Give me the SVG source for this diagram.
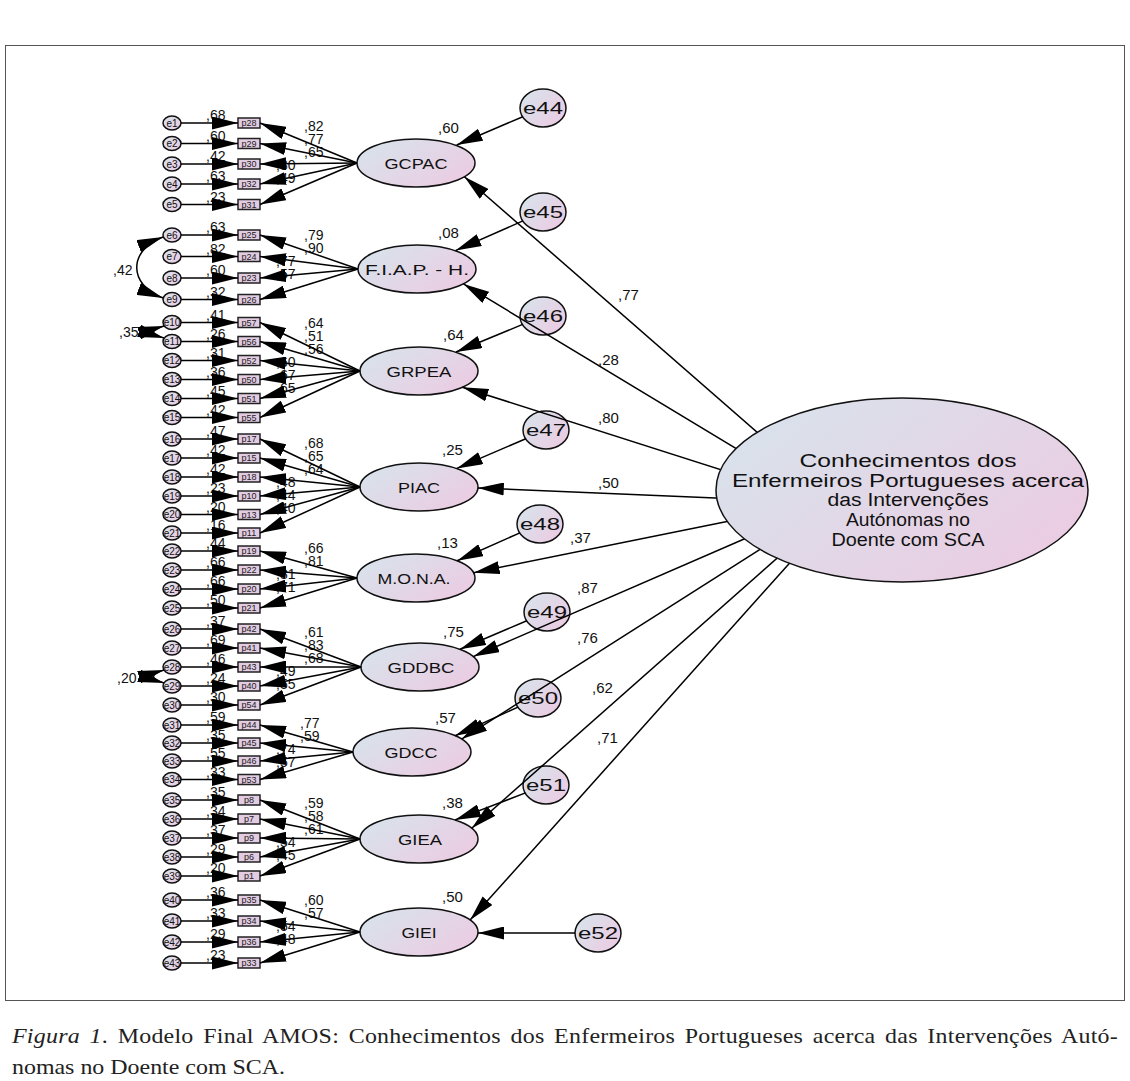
<svg xmlns="http://www.w3.org/2000/svg" width="1130" height="1081" viewBox="0 0 1130 1081">
<defs>
<linearGradient id="g" x1="0" y1="0.2" x2="1" y2="0.8"><stop offset="0" stop-color="#d8e3ec"/><stop offset="1" stop-color="#eccbe2"/></linearGradient>
<marker id="ah" viewBox="0 0 26 13" markerWidth="26" markerHeight="13" refX="26" refY="6.5" orient="auto" markerUnits="userSpaceOnUse"><path d="M0,0 L26,6.5 L0,13 z" fill="#000"/></marker>
<marker id="ahs" viewBox="0 0 26 13" markerWidth="26" markerHeight="13" refX="26" refY="6.5" orient="auto-start-reverse" markerUnits="userSpaceOnUse"><path d="M0,0 L26,6.5 L0,13 z" fill="#000"/></marker>
<style>
.ec{fill:url(#g);stroke:#111;stroke-width:1.5}
.bx{fill:#e3cce2;stroke:#222;stroke-width:1.5}
.lat{fill:url(#g);stroke:#111;stroke-width:1.5}
text{font-family:"Liberation Sans",Arial,sans-serif;fill:#111}
.se{font-size:10px;text-anchor:middle}
.bt{font-size:9px;text-anchor:middle;fill:#222}
.v{font-size:14px}
.v2{font-size:15px}
.ln{text-anchor:middle;font-size:15px}
.ee{text-anchor:middle;font-size:17px}
#connectors line,#connectors path{stroke:#000;stroke-width:1.5;fill:none;marker-end:url(#ah)}
#connectors path.cv{marker-start:url(#ahs)}
.cap{font-family:"Liberation Serif","Times New Roman",serif;font-size:21px;fill:#222}
</style>
</defs>
<rect x="5.5" y="45.5" width="1119" height="955" fill="none" stroke="#555" stroke-width="1"/>
<g id="labels" class="v">
<text x="206" y="120">,68</text><text x="206" y="140.5">,60</text><text x="206" y="161">,42</text><text x="206" y="181">,63</text><text x="206" y="201.5">,23</text>
<text x="304" y="131">,82</text><text x="304" y="144">,77</text><text x="304" y="157">,65</text><text x="276" y="170">,80</text><text x="276" y="183">,49</text>
<text x="206" y="232">,63</text><text x="206" y="253.5">,82</text><text x="206" y="275">,60</text><text x="206" y="296.5">,32</text>
<text x="304" y="240">,79</text><text x="304" y="253">,90</text><text x="276" y="266">,77</text><text x="276" y="279">,57</text>
<text x="206" y="319.5">,41</text><text x="206" y="338.5">,26</text><text x="206" y="357.5">,31</text><text x="206" y="376.5">,36</text><text x="206" y="395.5">,45</text><text x="206" y="414.5">,42</text>
<text x="304" y="328">,64</text><text x="304" y="341">,51</text><text x="304" y="354">,56</text><text x="276" y="367">,60</text><text x="276" y="380">,67</text><text x="276" y="393">,65</text>
<text x="206" y="436">,47</text><text x="206" y="455">,42</text><text x="206" y="474">,42</text><text x="206" y="493">,23</text><text x="206" y="511.5">,20</text><text x="206" y="530">,16</text>
<text x="304" y="448">,68</text><text x="304" y="461">,65</text><text x="304" y="474">,64</text><text x="276" y="487">,48</text><text x="276" y="500">,44</text><text x="276" y="513">,40</text>
<text x="206" y="548">,44</text><text x="206" y="567">,66</text><text x="206" y="586">,66</text><text x="206" y="605">,50</text>
<text x="304" y="553">,66</text><text x="304" y="566">,81</text><text x="276" y="579">,81</text><text x="276" y="592">,71</text>
<text x="206" y="626">,37</text><text x="206" y="645">,69</text><text x="206" y="664">,46</text><text x="206" y="683">,24</text><text x="206" y="702">,30</text>
<text x="304" y="637">,61</text><text x="304" y="650">,83</text><text x="304" y="663">,68</text><text x="276" y="676">,49</text><text x="276" y="689">,55</text>
<text x="206" y="722">,59</text><text x="206" y="740">,35</text><text x="206" y="758">,55</text><text x="206" y="776.5">,33</text>
<text x="300" y="728">,77</text><text x="300" y="741">,59</text><text x="276" y="754">,74</text><text x="276" y="767">,57</text>
<text x="206" y="797">,35</text><text x="206" y="816">,34</text><text x="206" y="835">,37</text><text x="206" y="854">,29</text><text x="206" y="873">,20</text>
<text x="304" y="808">,59</text><text x="304" y="821">,58</text><text x="304" y="834">,61</text><text x="276" y="847">,54</text><text x="276" y="860">,45</text>
<text x="206" y="897">,36</text><text x="206" y="918">,33</text><text x="206" y="939">,29</text><text x="206" y="960">,23</text>
<text x="304" y="905">,60</text><text x="304" y="918">,57</text><text x="276" y="931">,54</text><text x="276" y="944">,48</text>
<text x="113" y="275">,42</text><text x="119" y="337">,35</text><text x="117" y="683">,20</text>
<text class="v2" x="438" y="133">,60</text><text class="v2" x="438" y="238">,08</text><text class="v2" x="443" y="340">,64</text><text class="v2" x="442" y="455">,25</text><text class="v2" x="437" y="548">,13</text><text class="v2" x="443" y="637">,75</text><text class="v2" x="435" y="723">,57</text><text class="v2" x="442" y="808">,38</text><text class="v2" x="442" y="902">,50</text>
<text class="v2" x="618" y="300">,77</text><text class="v2" x="598" y="365">,28</text><text class="v2" x="598" y="423">,80</text><text class="v2" x="598" y="488">,50</text><text class="v2" x="570" y="543">,37</text><text class="v2" x="577" y="593">,87</text><text class="v2" x="577" y="643">,76</text><text class="v2" x="592" y="693">,62</text><text class="v2" x="597" y="743">,71</text>
</g>
<g id="errors-left">
<g id="e1"><ellipse class="ec" cx="172" cy="123" rx="9" ry="7"/><text class="se" x="172" y="126.5">e1</text></g>
<g id="e2"><ellipse class="ec" cx="172" cy="143.5" rx="9" ry="7"/><text class="se" x="172" y="147">e2</text></g>
<g id="e3"><ellipse class="ec" cx="172" cy="164" rx="9" ry="7"/><text class="se" x="172" y="167.5">e3</text></g>
<g id="e4"><ellipse class="ec" cx="172" cy="184" rx="9" ry="7"/><text class="se" x="172" y="187.5">e4</text></g>
<g id="e5"><ellipse class="ec" cx="172" cy="204.5" rx="9" ry="7"/><text class="se" x="172" y="208">e5</text></g>
<g id="e6"><ellipse class="ec" cx="172" cy="235" rx="9" ry="7"/><text class="se" x="172" y="238.5">e6</text></g>
<g id="e7"><ellipse class="ec" cx="172" cy="256.5" rx="9" ry="7"/><text class="se" x="172" y="260">e7</text></g>
<g id="e8"><ellipse class="ec" cx="172" cy="278" rx="9" ry="7"/><text class="se" x="172" y="281.5">e8</text></g>
<g id="e9"><ellipse class="ec" cx="172" cy="299.5" rx="9" ry="7"/><text class="se" x="172" y="303">e9</text></g>
<g id="e10"><ellipse class="ec" cx="172" cy="322.5" rx="9" ry="7"/><text class="se" x="172" y="326">e10</text></g>
<g id="e11"><ellipse class="ec" cx="172" cy="341.5" rx="9" ry="7"/><text class="se" x="172" y="345">e11</text></g>
<g id="e12"><ellipse class="ec" cx="172" cy="360.5" rx="9" ry="7"/><text class="se" x="172" y="364">e12</text></g>
<g id="e13"><ellipse class="ec" cx="172" cy="379.5" rx="9" ry="7"/><text class="se" x="172" y="383">e13</text></g>
<g id="e14"><ellipse class="ec" cx="172" cy="398.5" rx="9" ry="7"/><text class="se" x="172" y="402">e14</text></g>
<g id="e15"><ellipse class="ec" cx="172" cy="417.5" rx="9" ry="7"/><text class="se" x="172" y="421">e15</text></g>
<g id="e16"><ellipse class="ec" cx="172" cy="439" rx="9" ry="7"/><text class="se" x="172" y="442.5">e16</text></g>
<g id="e17"><ellipse class="ec" cx="172" cy="458" rx="9" ry="7"/><text class="se" x="172" y="461.5">e17</text></g>
<g id="e18"><ellipse class="ec" cx="172" cy="477" rx="9" ry="7"/><text class="se" x="172" y="480.5">e18</text></g>
<g id="e19"><ellipse class="ec" cx="172" cy="496" rx="9" ry="7"/><text class="se" x="172" y="499.5">e19</text></g>
<g id="e20"><ellipse class="ec" cx="172" cy="514.5" rx="9" ry="7"/><text class="se" x="172" y="518">e20</text></g>
<g id="e21"><ellipse class="ec" cx="172" cy="533" rx="9" ry="7"/><text class="se" x="172" y="536.5">e21</text></g>
<g id="e22"><ellipse class="ec" cx="172" cy="551" rx="9" ry="7"/><text class="se" x="172" y="554.5">e22</text></g>
<g id="e23"><ellipse class="ec" cx="172" cy="570" rx="9" ry="7"/><text class="se" x="172" y="573.5">e23</text></g>
<g id="e24"><ellipse class="ec" cx="172" cy="589" rx="9" ry="7"/><text class="se" x="172" y="592.5">e24</text></g>
<g id="e25"><ellipse class="ec" cx="172" cy="608" rx="9" ry="7"/><text class="se" x="172" y="611.5">e25</text></g>
<g id="e26"><ellipse class="ec" cx="172" cy="629" rx="9" ry="7"/><text class="se" x="172" y="632.5">e26</text></g>
<g id="e27"><ellipse class="ec" cx="172" cy="648" rx="9" ry="7"/><text class="se" x="172" y="651.5">e27</text></g>
<g id="e28"><ellipse class="ec" cx="172" cy="667" rx="9" ry="7"/><text class="se" x="172" y="670.5">e28</text></g>
<g id="e29"><ellipse class="ec" cx="172" cy="686" rx="9" ry="7"/><text class="se" x="172" y="689.5">e29</text></g>
<g id="e30"><ellipse class="ec" cx="172" cy="705" rx="9" ry="7"/><text class="se" x="172" y="708.5">e30</text></g>
<g id="e31"><ellipse class="ec" cx="172" cy="725" rx="9" ry="7"/><text class="se" x="172" y="728.5">e31</text></g>
<g id="e32"><ellipse class="ec" cx="172" cy="743" rx="9" ry="7"/><text class="se" x="172" y="746.5">e32</text></g>
<g id="e33"><ellipse class="ec" cx="172" cy="761" rx="9" ry="7"/><text class="se" x="172" y="764.5">e33</text></g>
<g id="e34"><ellipse class="ec" cx="172" cy="779.5" rx="9" ry="7"/><text class="se" x="172" y="783">e34</text></g>
<g id="e35"><ellipse class="ec" cx="172" cy="800" rx="9" ry="7"/><text class="se" x="172" y="803.5">e35</text></g>
<g id="e36"><ellipse class="ec" cx="172" cy="819" rx="9" ry="7"/><text class="se" x="172" y="822.5">e36</text></g>
<g id="e37"><ellipse class="ec" cx="172" cy="838" rx="9" ry="7"/><text class="se" x="172" y="841.5">e37</text></g>
<g id="e38"><ellipse class="ec" cx="172" cy="857" rx="9" ry="7"/><text class="se" x="172" y="860.5">e38</text></g>
<g id="e39"><ellipse class="ec" cx="172" cy="876" rx="9" ry="7"/><text class="se" x="172" y="879.5">e39</text></g>
<g id="e40"><ellipse class="ec" cx="172" cy="900" rx="9" ry="7"/><text class="se" x="172" y="903.5">e40</text></g>
<g id="e41"><ellipse class="ec" cx="172" cy="921" rx="9" ry="7"/><text class="se" x="172" y="924.5">e41</text></g>
<g id="e42"><ellipse class="ec" cx="172" cy="942" rx="9" ry="7"/><text class="se" x="172" y="945.5">e42</text></g>
<g id="e43"><ellipse class="ec" cx="172" cy="963" rx="9" ry="7"/><text class="se" x="172" y="966.5">e43</text></g>
</g>
<g id="observed">
<g id="p28"><rect class="bx" x="238" y="118" width="22" height="10"/><text class="bt" x="249" y="126">p28</text></g>
<g id="p29"><rect class="bx" x="238" y="138.5" width="22" height="10"/><text class="bt" x="249" y="146.5">p29</text></g>
<g id="p30"><rect class="bx" x="238" y="159" width="22" height="10"/><text class="bt" x="249" y="167">p30</text></g>
<g id="p32"><rect class="bx" x="238" y="179" width="22" height="10"/><text class="bt" x="249" y="187">p32</text></g>
<g id="p31"><rect class="bx" x="238" y="199.5" width="22" height="10"/><text class="bt" x="249" y="207.5">p31</text></g>
<g id="p25"><rect class="bx" x="238" y="230" width="22" height="10"/><text class="bt" x="249" y="238">p25</text></g>
<g id="p24"><rect class="bx" x="238" y="251.5" width="22" height="10"/><text class="bt" x="249" y="259.5">p24</text></g>
<g id="p23"><rect class="bx" x="238" y="273" width="22" height="10"/><text class="bt" x="249" y="281">p23</text></g>
<g id="p26"><rect class="bx" x="238" y="294.5" width="22" height="10"/><text class="bt" x="249" y="302.5">p26</text></g>
<g id="p57"><rect class="bx" x="238" y="317.5" width="22" height="10"/><text class="bt" x="249" y="325.5">p57</text></g>
<g id="p56"><rect class="bx" x="238" y="336.5" width="22" height="10"/><text class="bt" x="249" y="344.5">p56</text></g>
<g id="p52"><rect class="bx" x="238" y="355.5" width="22" height="10"/><text class="bt" x="249" y="363.5">p52</text></g>
<g id="p50"><rect class="bx" x="238" y="374.5" width="22" height="10"/><text class="bt" x="249" y="382.5">p50</text></g>
<g id="p51"><rect class="bx" x="238" y="393.5" width="22" height="10"/><text class="bt" x="249" y="401.5">p51</text></g>
<g id="p55"><rect class="bx" x="238" y="412.5" width="22" height="10"/><text class="bt" x="249" y="420.5">p55</text></g>
<g id="p17"><rect class="bx" x="238" y="434" width="22" height="10"/><text class="bt" x="249" y="442">p17</text></g>
<g id="p15"><rect class="bx" x="238" y="453" width="22" height="10"/><text class="bt" x="249" y="461">p15</text></g>
<g id="p18"><rect class="bx" x="238" y="472" width="22" height="10"/><text class="bt" x="249" y="480">p18</text></g>
<g id="p10"><rect class="bx" x="238" y="491" width="22" height="10"/><text class="bt" x="249" y="499">p10</text></g>
<g id="p13"><rect class="bx" x="238" y="509.5" width="22" height="10"/><text class="bt" x="249" y="517.5">p13</text></g>
<g id="p11"><rect class="bx" x="238" y="528" width="22" height="10"/><text class="bt" x="249" y="536">p11</text></g>
<g id="p19"><rect class="bx" x="238" y="546" width="22" height="10"/><text class="bt" x="249" y="554">p19</text></g>
<g id="p22"><rect class="bx" x="238" y="565" width="22" height="10"/><text class="bt" x="249" y="573">p22</text></g>
<g id="p20"><rect class="bx" x="238" y="584" width="22" height="10"/><text class="bt" x="249" y="592">p20</text></g>
<g id="p21"><rect class="bx" x="238" y="603" width="22" height="10"/><text class="bt" x="249" y="611">p21</text></g>
<g id="p42"><rect class="bx" x="238" y="624" width="22" height="10"/><text class="bt" x="249" y="632">p42</text></g>
<g id="p41"><rect class="bx" x="238" y="643" width="22" height="10"/><text class="bt" x="249" y="651">p41</text></g>
<g id="p43"><rect class="bx" x="238" y="662" width="22" height="10"/><text class="bt" x="249" y="670">p43</text></g>
<g id="p40"><rect class="bx" x="238" y="681" width="22" height="10"/><text class="bt" x="249" y="689">p40</text></g>
<g id="p54"><rect class="bx" x="238" y="700" width="22" height="10"/><text class="bt" x="249" y="708">p54</text></g>
<g id="p44"><rect class="bx" x="238" y="720" width="22" height="10"/><text class="bt" x="249" y="728">p44</text></g>
<g id="p45"><rect class="bx" x="238" y="738" width="22" height="10"/><text class="bt" x="249" y="746">p45</text></g>
<g id="p46"><rect class="bx" x="238" y="756" width="22" height="10"/><text class="bt" x="249" y="764">p46</text></g>
<g id="p53"><rect class="bx" x="238" y="774.5" width="22" height="10"/><text class="bt" x="249" y="782.5">p53</text></g>
<g id="p8"><rect class="bx" x="238" y="795" width="22" height="10"/><text class="bt" x="249" y="803">p8</text></g>
<g id="p7"><rect class="bx" x="238" y="814" width="22" height="10"/><text class="bt" x="249" y="822">p7</text></g>
<g id="p9"><rect class="bx" x="238" y="833" width="22" height="10"/><text class="bt" x="249" y="841">p9</text></g>
<g id="p6"><rect class="bx" x="238" y="852" width="22" height="10"/><text class="bt" x="249" y="860">p6</text></g>
<g id="p1"><rect class="bx" x="238" y="871" width="22" height="10"/><text class="bt" x="249" y="879">p1</text></g>
<g id="p35"><rect class="bx" x="238" y="895" width="22" height="10"/><text class="bt" x="249" y="903">p35</text></g>
<g id="p34"><rect class="bx" x="238" y="916" width="22" height="10"/><text class="bt" x="249" y="924">p34</text></g>
<g id="p36"><rect class="bx" x="238" y="937" width="22" height="10"/><text class="bt" x="249" y="945">p36</text></g>
<g id="p33"><rect class="bx" x="238" y="958" width="22" height="10"/><text class="bt" x="249" y="966">p33</text></g>
</g>
<g id="latents">
<g id="GCPAC"><ellipse class="lat" cx="416" cy="163" rx="59" ry="24"/><text class="ln" x="416" y="168.5" textLength="63" lengthAdjust="spacingAndGlyphs">GCPAC</text></g>
<g id="FIAP-H"><ellipse class="lat" cx="417" cy="269" rx="59" ry="24"/><text class="ln" x="417" y="274.5" textLength="104" lengthAdjust="spacingAndGlyphs">F.I.A.P. - H.</text></g>
<g id="GRPEA"><ellipse class="lat" cx="419" cy="371" rx="59" ry="24"/><text class="ln" x="419" y="376.5" textLength="65" lengthAdjust="spacingAndGlyphs">GRPEA</text></g>
<g id="PIAC"><ellipse class="lat" cx="419" cy="487" rx="59" ry="24"/><text class="ln" x="419" y="492.5" textLength="42" lengthAdjust="spacingAndGlyphs">PIAC</text></g>
<g id="MONA"><ellipse class="lat" cx="416" cy="578" rx="59" ry="24"/><text class="ln" x="414" y="583.5" textLength="73" lengthAdjust="spacingAndGlyphs">M.O.N.A.</text></g>
<g id="GDDBC"><ellipse class="lat" cx="420" cy="667" rx="59" ry="24"/><text class="ln" x="421" y="672.5" textLength="67" lengthAdjust="spacingAndGlyphs">GDDBC</text></g>
<g id="GDCC"><ellipse class="lat" cx="412" cy="752" rx="59" ry="24"/><text class="ln" x="411" y="757.5" textLength="53" lengthAdjust="spacingAndGlyphs">GDCC</text></g>
<g id="GIEA"><ellipse class="lat" cx="419" cy="839" rx="59" ry="24"/><text class="ln" x="420" y="844.5" textLength="44" lengthAdjust="spacingAndGlyphs">GIEA</text></g>
<g id="GIEI"><ellipse class="lat" cx="419" cy="932" rx="59" ry="24"/><text class="ln" x="419" y="937.5" textLength="35" lengthAdjust="spacingAndGlyphs">GIEI</text></g>
</g>
<g id="errors-right">
<g id="e44"><ellipse class="ec" cx="543" cy="108" rx="23" ry="19"/><text class="ee" x="543" y="114" textLength="40" lengthAdjust="spacingAndGlyphs">e44</text></g>
<g id="e45"><ellipse class="ec" cx="543" cy="212" rx="23" ry="19"/><text class="ee" x="543" y="218" textLength="40" lengthAdjust="spacingAndGlyphs">e45</text></g>
<g id="e46"><ellipse class="ec" cx="543" cy="316" rx="23" ry="19"/><text class="ee" x="543" y="322" textLength="40" lengthAdjust="spacingAndGlyphs">e46</text></g>
<g id="e47"><ellipse class="ec" cx="546" cy="430" rx="23" ry="19"/><text class="ee" x="546" y="436" textLength="40" lengthAdjust="spacingAndGlyphs">e47</text></g>
<g id="e48"><ellipse class="ec" cx="540" cy="524" rx="23" ry="19"/><text class="ee" x="540" y="530" textLength="40" lengthAdjust="spacingAndGlyphs">e48</text></g>
<g id="e49"><ellipse class="ec" cx="547" cy="612" rx="23" ry="19"/><text class="ee" x="547" y="618" textLength="40" lengthAdjust="spacingAndGlyphs">e49</text></g>
<g id="e50"><ellipse class="ec" cx="538" cy="698" rx="23" ry="19"/><text class="ee" x="538" y="704" textLength="40" lengthAdjust="spacingAndGlyphs">e50</text></g>
<g id="e51"><ellipse class="ec" cx="546" cy="785" rx="23" ry="19"/><text class="ee" x="546" y="791" textLength="40" lengthAdjust="spacingAndGlyphs">e51</text></g>
<g id="e52"><ellipse class="ec" cx="598" cy="933" rx="23" ry="19"/><text class="ee" x="598" y="939" textLength="40" lengthAdjust="spacingAndGlyphs">e52</text></g>
</g>
<g id="connectors">
<line x1="181" y1="123" x2="238" y2="123"/><line x1="181" y1="143.5" x2="238" y2="143.5"/><line x1="181" y1="164" x2="238" y2="164"/><line x1="181" y1="184" x2="238" y2="184"/><line x1="181" y1="204.5" x2="238" y2="204.5"/>
<line x1="181" y1="235" x2="238" y2="235"/><line x1="181" y1="256.5" x2="238" y2="256.5"/><line x1="181" y1="278" x2="238" y2="278"/><line x1="181" y1="299.5" x2="238" y2="299.5"/>
<line x1="181" y1="322.5" x2="238" y2="322.5"/><line x1="181" y1="341.5" x2="238" y2="341.5"/><line x1="181" y1="360.5" x2="238" y2="360.5"/><line x1="181" y1="379.5" x2="238" y2="379.5"/><line x1="181" y1="398.5" x2="238" y2="398.5"/><line x1="181" y1="417.5" x2="238" y2="417.5"/>
<line x1="181" y1="439" x2="238" y2="439"/><line x1="181" y1="458" x2="238" y2="458"/><line x1="181" y1="477" x2="238" y2="477"/><line x1="181" y1="496" x2="238" y2="496"/><line x1="181" y1="514.5" x2="238" y2="514.5"/><line x1="181" y1="533" x2="238" y2="533"/>
<line x1="181" y1="551" x2="238" y2="551"/><line x1="181" y1="570" x2="238" y2="570"/><line x1="181" y1="589" x2="238" y2="589"/><line x1="181" y1="608" x2="238" y2="608"/>
<line x1="181" y1="629" x2="238" y2="629"/><line x1="181" y1="648" x2="238" y2="648"/><line x1="181" y1="667" x2="238" y2="667"/><line x1="181" y1="686" x2="238" y2="686"/><line x1="181" y1="705" x2="238" y2="705"/>
<line x1="181" y1="725" x2="238" y2="725"/><line x1="181" y1="743" x2="238" y2="743"/><line x1="181" y1="761" x2="238" y2="761"/><line x1="181" y1="779.5" x2="238" y2="779.5"/>
<line x1="181" y1="800" x2="238" y2="800"/><line x1="181" y1="819" x2="238" y2="819"/><line x1="181" y1="838" x2="238" y2="838"/><line x1="181" y1="857" x2="238" y2="857"/><line x1="181" y1="876" x2="238" y2="876"/>
<line x1="181" y1="900" x2="238" y2="900"/><line x1="181" y1="921" x2="238" y2="921"/><line x1="181" y1="942" x2="238" y2="942"/><line x1="181" y1="963" x2="238" y2="963"/>
<line x1="357" y1="163" x2="260" y2="123"/><line x1="357" y1="163" x2="260" y2="143.5"/><line x1="357" y1="163" x2="260" y2="164"/><line x1="357" y1="163" x2="260" y2="184"/><line x1="357" y1="163" x2="260" y2="204.5"/>
<line x1="358" y1="269" x2="260" y2="235"/><line x1="358" y1="269" x2="260" y2="256.5"/><line x1="358" y1="269" x2="260" y2="278"/><line x1="358" y1="269" x2="260" y2="299.5"/>
<line x1="360" y1="371" x2="260" y2="322.5"/><line x1="360" y1="371" x2="260" y2="341.5"/><line x1="360" y1="371" x2="260" y2="360.5"/><line x1="360" y1="371" x2="260" y2="379.5"/><line x1="360" y1="371" x2="260" y2="398.5"/><line x1="360" y1="371" x2="260" y2="417.5"/>
<line x1="360" y1="487" x2="260" y2="439"/><line x1="360" y1="487" x2="260" y2="458"/><line x1="360" y1="487" x2="260" y2="477"/><line x1="360" y1="487" x2="260" y2="496"/><line x1="360" y1="487" x2="260" y2="514.5"/><line x1="360" y1="487" x2="260" y2="533"/>
<line x1="357" y1="578" x2="260" y2="551"/><line x1="357" y1="578" x2="260" y2="570"/><line x1="357" y1="578" x2="260" y2="589"/><line x1="357" y1="578" x2="260" y2="608"/>
<line x1="361" y1="667" x2="260" y2="629"/><line x1="361" y1="667" x2="260" y2="648"/><line x1="361" y1="667" x2="260" y2="667"/><line x1="361" y1="667" x2="260" y2="686"/><line x1="361" y1="667" x2="260" y2="705"/>
<line x1="353" y1="752" x2="260" y2="725"/><line x1="353" y1="752" x2="260" y2="743"/><line x1="353" y1="752" x2="260" y2="761"/><line x1="353" y1="752" x2="260" y2="779.5"/>
<line x1="360" y1="839" x2="260" y2="800"/><line x1="360" y1="839" x2="260" y2="819"/><line x1="360" y1="839" x2="260" y2="838"/><line x1="360" y1="839" x2="260" y2="857"/><line x1="360" y1="839" x2="260" y2="876"/>
<line x1="360" y1="932" x2="260" y2="900"/><line x1="360" y1="932" x2="260" y2="921"/><line x1="360" y1="932" x2="260" y2="942"/><line x1="360" y1="932" x2="260" y2="963"/>
<path class="cv" d="M163,237 C128,250 128,285 163,298"/>
<path class="cv" d="M164,326 C150,330 150,334 164,338"/>
<path class="cv" d="M164,670 C150,674 150,679 164,683"/>
<line x1="522.8" y1="116.7" x2="456.7" y2="145"/>
<line x1="522.9" y1="220.9" x2="455.5" y2="250.6"/>
<line x1="522.7" y1="324.4" x2="456" y2="352"/>
<line x1="525.8" y1="438.7" x2="456.8" y2="468.4"/>
<line x1="519.9" y1="532.9" x2="457.2" y2="560.7"/>
<line x1="526.8" y1="620.7" x2="460" y2="649.3"/>
<line x1="518" y1="707.1" x2="455.2" y2="735.7"/>
<line x1="525.5" y1="792.9" x2="455" y2="819.9"/>
<line x1="575" y1="933" x2="478" y2="933"/>
<line x1="796.1" y1="466.3" x2="464.4" y2="176.7"/>
<line x1="781.2" y1="475.7" x2="463.5" y2="283.9"/>
<line x1="766.1" y1="484.2" x2="462.4" y2="387.2"/>
<line x1="757" y1="499.7" x2="477.8" y2="488"/>
<line x1="759.2" y1="515.1" x2="473.6" y2="572.7"/>
<line x1="771.7" y1="527.1" x2="473.3" y2="656.6"/>
<line x1="790.2" y1="530.1" x2="461.6" y2="739.1"/>
<line x1="795.5" y1="541.9" x2="471.7" y2="828.2"/>
<line x1="803.4" y1="547.7" x2="470.1" y2="920.1"/>
</g>
<g id="Conhecimentos">
<ellipse class="lat" cx="902" cy="490" rx="186" ry="92"/>
<text x="908" y="467" font-size="18" text-anchor="middle" textLength="217" lengthAdjust="spacingAndGlyphs">Conhecimentos dos</text>
<text x="908" y="487" font-size="18" text-anchor="middle" textLength="352" lengthAdjust="spacingAndGlyphs">Enfermeiros Portugueses acerca</text>
<text x="908" y="506" font-size="18" text-anchor="middle" textLength="161" lengthAdjust="spacingAndGlyphs">das Intervenções</text>
<text x="908" y="526" font-size="18" text-anchor="middle" textLength="124" lengthAdjust="spacingAndGlyphs">Autónomas no</text>
<text x="908" y="546" font-size="18" text-anchor="middle" textLength="153" lengthAdjust="spacingAndGlyphs">Doente com SCA</text>
</g>
<g id="caption" transform="scale(1.14,1)">
<text class="cap" x="10.5" y="1043" textLength="970" lengthAdjust="spacing" word-spacing="3"><tspan font-style="italic">Figura 1</tspan>. Modelo Final AMOS: Conhecimentos dos Enfermeiros Portugueses acerca das Intervenções Autó-</text>
<text class="cap" x="10.5" y="1074">nomas no Doente com SCA.</text>
</g>
</svg>
